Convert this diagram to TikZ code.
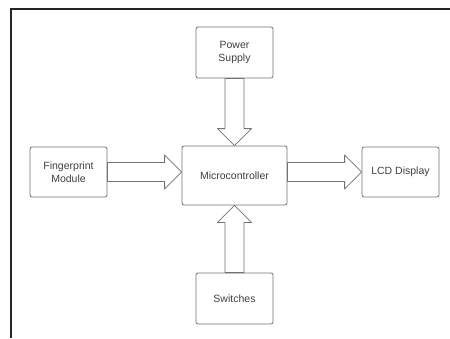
\documentclass[tikz,border=0pt]{standalone}
\usepackage{fontspec}
\setmainfont{Liberation Sans}
\usetikzlibrary{calc}

\begin{document}
\begin{tikzpicture}[x=1pt, y=-1pt,
    block/.style={draw=black!55, line width=0.8pt, rounded corners=2pt, fill=white,
        minimum width=77pt, minimum height=50pt, inner sep=0pt, align=center,
        text=black!75, font=\fontsize{10.5}{12.5}\selectfont},
    fatarrow/.style={draw=black!55, line width=0.8pt, fill=white, line join=round,
        to path={let \p1=($(\tikztotarget)!17pt!(\tikztostart)$) in
        ($(\tikztostart)!9.5pt!-90:(\tikztotarget)$) -- ($(\p1)!9.5pt!-90:(\tikztotarget)$)
        -- ($(\p1)!17pt!-90:(\tikztotarget)$) -- (\tikztotarget)
        -- ($(\p1)!17pt!90:(\tikztotarget)$) -- ($(\p1)!9.5pt!90:(\tikztotarget)$)
        -- ($(\tikztostart)!9.5pt!90:(\tikztotarget)$) -- cycle}}]
    \useasboundingbox (0,0) rectangle (450,338);

    % Frame
    \draw[black!85, line width=1.2pt] (450,9) -- (11,9) -- (11,338);

    % Blocks
    \node[block, minimum width=105pt, minimum height=59pt] (mcu) at (234.5,175.5) {Microcontroller};
    \node[block, minimum height=51pt] (power) at (234.5,52.5) {Power\\Supply};
    \node[block] (finger) at (68.5,172) {Fingerprint\\Module};
    \node[block] (lcd) at (400.5,172) {LCD Display};
    \node[block, minimum height=51pt] (switches) at (234.5,298.5) {Switches};

    % Arrow ends on the microcontroller
    \coordinate (mcuin) at (finger.east -| mcu.west);
    \coordinate (mcuout) at (lcd.west -| mcu.east);

    % Arrows
    \draw[fatarrow] (power.south) to (mcu.north);
    \draw[fatarrow] (switches.north) to (mcu.south);
    \draw[fatarrow] (finger.east) to (mcuin);
    \draw[fatarrow] (mcuout) to (lcd.west);
\end{tikzpicture}
\end{document}
